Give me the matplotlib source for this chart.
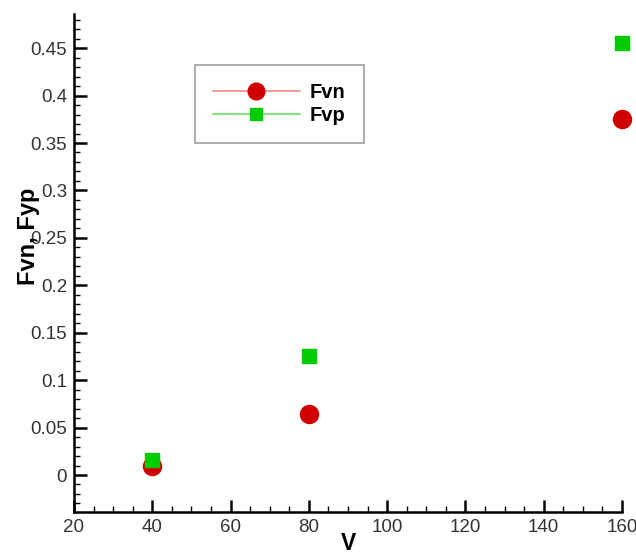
import numpy as np
import matplotlib.pyplot as plt
from matplotlib.lines import Line2D
from matplotlib.ticker import MultipleLocator

plt.rcParams['font.family'] = ['Liberation Sans', 'DejaVu Sans']

# datos
v = [40, 80, 160]
fvn = [0.010, 0.064, 0.375]
fvp = [0.016, 0.125, 0.455]

rojo = '#d00000'
verde = '#00cc00'

fig = plt.figure(figsize=(6.36, 5.55), dpi=100)
ax = fig.add_axes([74 / 636, 43 / 555, 548 / 636, 498 / 555])

ax.plot(v, fvn, linestyle='none', marker='o', markersize=13, color=rojo, zorder=3, clip_on=False)
ax.plot(v, fvp, linestyle='none', marker='s', markersize=9.5, color=verde, zorder=4, clip_on=False)

ax.set_xlim(20, 160)
ax.set_ylim(-0.039, 0.486)
ax.xaxis.set_major_locator(MultipleLocator(20))
ax.xaxis.set_minor_locator(MultipleLocator(5))
ax.yaxis.set_minor_locator(MultipleLocator(0.01))
ax.set_yticks(np.arange(0, 0.46, 0.05))
ax.set_yticklabels(['0', '0.05', '0.1', '0.15', '0.2', '0.25', '0.3', '0.35', '0.4', '0.45'])

for lado in ['top', 'right']:
    ax.spines[lado].set_visible(False)
for lado in ['left', 'bottom']:
    ax.spines[lado].set_linewidth(1.8)

ax.tick_params(which='major', direction='in', length=9, width=1.8, labelsize=13.5, pad=5)
ax.tick_params(which='minor', direction='in', length=4.5, width=1.0)
for lbl in ax.get_xticklabels() + ax.get_yticklabels():
    lbl.set_color('#333333')

ax.set_xlabel('V', fontsize=16.5, fontweight='bold', labelpad=-2.5)
ax.set_ylabel('Fvn, Fyp', fontsize=17, fontweight='bold')
ax.yaxis.set_label_coords(-46 / 548, 0.553)
ax.yaxis.label.set_va('center')

# leyenda con lineas claras
h1 = Line2D([], [], color='#f08a8a', linewidth=1.2, marker='o', markersize=12,
            markerfacecolor=rojo, markeredgecolor=rojo)
h2 = Line2D([], [], color='#66e066', linewidth=1.2, marker='s', markersize=8.5,
            markerfacecolor=verde, markeredgecolor=verde)
leg = ax.legend([h1, h2], ['Fvn', 'Fvp'], loc='upper left',
                bbox_to_anchor=(195 / 636, 1 - 65 / 555), bbox_transform=fig.transFigure,
                frameon=True, fancybox=False, edgecolor='#888888', handlelength=4.3,
                handletextpad=0.5, borderpad=0.9, borderaxespad=0, labelspacing=0.2,
                prop={'weight': 'bold', 'size': 14.5})
leg.get_frame().set_linewidth(1.2)

fig.savefig('out.png', dpi=100)
